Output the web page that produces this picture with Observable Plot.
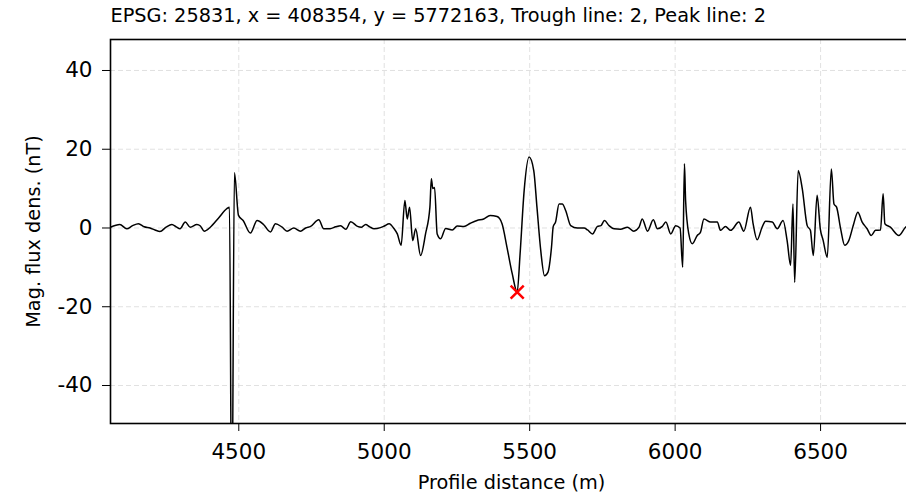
<!DOCTYPE html>
<html>
<head>
<meta charset="utf-8">
<script src="https://cdn.jsdelivr.net/npm/d3@7"></script>
<script src="https://cdn.jsdelivr.net/npm/@observablehq/plot@0.6"></script>
<style>
  html, body { margin: 0; padding: 0; background: #fff; }
  svg { display: block; }
</style>
</head>
<body>
<div id="chart"></div>
<script>
const titleText = "EPSG: 25831, x = 408354, y = 5772163, Trough line: 2, Peak line: 2";
const xLabel = "Profile distance (m)";
const yLabel = "Mag. flux dens. (nT)";
const xTicks = [4500, 5000, 5500, 6000, 6500];
const yTicks = [-40, -20, 0, 20, 40];

const distance = [
  4059, 4091, 4115, 4135, 4155, 4175, 4195, 4212, 4229, 4250, 4270, 4285, 4298, 4316, 4333, 4356, 4368, 4381, 4402, 4430,
  4459, 4468, 4476, 4485, 4499, 4515, 4540, 4563, 4585, 4609, 4626, 4649, 4666, 4689, 4712, 4730, 4747, 4775, 4792, 4814,
  4833, 4850, 4868, 4885, 4908, 4922, 4936, 4950, 4965, 4987, 5000, 5017, 5034, 5045, 5058, 5071, 5079, 5087, 5098, 5108,
  5125, 5142, 5157, 5162, 5167, 5173, 5182, 5194, 5211, 5234, 5251, 5274, 5296, 5319, 5342, 5364, 5388, 5405, 5422, 5440,
  5457, 5467, 5481, 5498, 5514, 5525, 5538, 5551, 5563, 5575, 5581, 5589, 5601, 5612, 5624, 5641, 5664, 5687, 5699, 5716,
  5733, 5745, 5757, 5773, 5790, 5812, 5836, 5858, 5876, 5887, 5905, 5925, 5939, 5956, 5968, 5985, 6002, 6017, 6026, 6032,
  6036, 6047, 6059, 6076, 6087, 6099, 6122, 6145, 6156, 6173, 6191, 6219, 6236, 6259, 6268, 6282, 6299, 6311, 6334, 6351,
  6371, 6385, 6397, 6405, 6411, 6423, 6437, 6454, 6465, 6475, 6488, 6499, 6509, 6523, 6537, 6546, 6555, 6569, 6583, 6597,
  6614, 6628, 6643, 6660, 6674, 6689, 6706, 6715, 6721, 6740, 6769, 6792, 6816
];
const flux = [
  0.2, 0.9, -0.2, 0.6, 1.1, 0.3, 0.0, -0.5, -0.9, 0.2, 0.9, 0.3, -0.2, 1.5, 0.2, 0.9, 0.5, -0.8, 0.2, 2.5,
  4.9, 5.3, -80, 14, 3.2, 1.9, -1.3, 1.9, 0.9, -1.0, 1.1, 0.2, -0.8, 0.0, -0.8, 0.0, 0.4, 2.1, -0.2, -0.2,
  0.3, 0.6, -0.3, 1.6, 0.4, 0.2, 0.9, 0.3, -0.2, 0.1, 0.5, 1.1, -0.2, -1.5, -4.4, 7.0, 2.3, 5.3, -3.2, -0.2,
  -7.0, -1.5, 5.3, 12.5, 10.0, 10.3, -1.5, -2.7, -0.1, -0.5, 0.5, 0.4, 1.2, 1.9, 2.3, 3.2, 2.9, 1.1, -4.9, -11.6,
  -16.3, -6.6, 9.5, 18.0, 14.6, 5.3, -5.7, -12.1, -11.2, -4.9, 0.4, 1.5, 6.1, 6.1, 4.4, 0.6, 0.0, 0.0, -0.5, -1.5,
  0.4, 0.6, 1.9, 0.6, -0.2, -0.3, 0.2, -0.8, 0.2, 2.3, -0.8, 2.1, -0.2, 0.4, 1.5, -1.5, 0.6, 0.0, -10.0, 16.3,
  7.0, -1.5, -4.0, -1.9, -1.1, 2.3, 1.5, 1.5, -0.6, 0.4, -0.6, 1.5, -0.8, 5.3, 1.1, -3.0, 0.2, 1.7, 1.5, -0.2,
  1.9, -3.2, -9.5, 6.1, -13.8, 14.6, 10.0, 0.6, -0.6, -7.0, 8.3, -0.2, -3.2, -7.4, 15.0, 6.1, 5.3, -0.2, -4.4, -3.2,
  1.1, 4.0, 1.5, -0.2, -1.9, -0.6, -0.5, 8.7, 1.1, 0.2, -1.9, 0.2, 1.0
];
const troughDistance = [5457];
const troughFlux = [-16.3];

const profile = distance.map((d, i) => ({distance: d, flux: flux[i]}));
const trough = troughDistance.map((d, i) => ({distance: d, flux: troughFlux[i]}));

const gridStyle = {stroke: "#c8c8c8", strokeOpacity: 0.55, strokeDasharray: "5,3", strokeWidth: 1};

const chart = Plot.plot({
  width: 906,
  height: 495,
  marginLeft: 110,
  marginRight: -6,
  marginTop: 39,
  marginBottom: 72,
  style: {fontFamily: "'DejaVu Sans', sans-serif", fontSize: "21.5px", color: "#000", background: "#fff", overflow: "hidden"},
  x: {domain: [4059, 6816], ticks: xTicks, tickSize: 8, tickPadding: 12, label: null, tickFormat: d => String(d)},
  y: {domain: [-49.65, 47.87], ticks: yTicks, tickSize: 8, tickPadding: 10, label: null, tickFormat: d => String(d)},
  marks: [
    Plot.ruleX(xTicks, gridStyle),
    Plot.ruleY(yTicks, gridStyle),
    Plot.line(profile, {x: "distance", y: "flux", stroke: "#000", strokeWidth: 1.5, curve: "monotone-x", clip: true}),
    Plot.dot(trough, {x: "distance", y: "flux", symbol: "times", r: 6, stroke: "red", strokeWidth: 2.5}),
    Plot.frame({stroke: "#000", strokeWidth: 1.6}),
    Plot.text([titleText], {text: d => d, frameAnchor: "top-left", textAnchor: "start", lineAnchor: "top", dy: -31.5, fontSize: 19.3}),
    Plot.text([xLabel], {text: d => d, frameAnchor: "bottom", textAnchor: "middle", lineAnchor: "top", dy: 51.5, fontSize: 19.3}),
    Plot.text([yLabel], {text: d => d, frameAnchor: "left", textAnchor: "middle", lineAnchor: "top", rotate: -90, dx: -84.5, fontSize: 19.3})
  ]
});
document.getElementById("chart").appendChild(chart);
</script>
</body>
</html>
